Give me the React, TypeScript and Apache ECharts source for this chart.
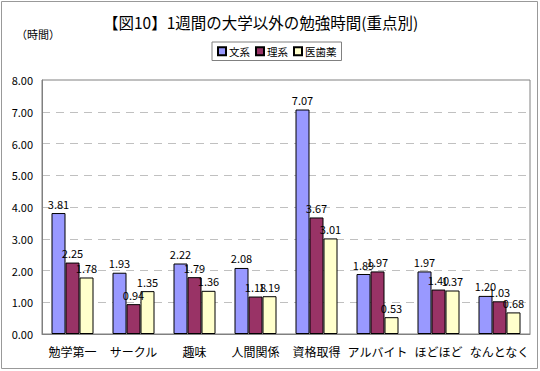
import React, { useEffect, useRef } from "react";
import * as echarts from "echarts";

const categories = ["勉学第一", "サークル", "趣味", "人間関係", "資格取得", "アルバイト", "ほどほど", "なんとなく"];
const seriesNames = ["文系", "理系", "医歯薬"];
const bunkei = [3.81, 1.93, 2.22, 2.08, 7.07, 1.89, 1.97, 1.2];
const rikei = [2.25, 0.94, 1.79, 1.18, 3.67, 1.97, 1.4, 1.03];
const ishiyaku = [1.78, 1.35, 1.36, 1.19, 3.01, 0.53, 1.37, 0.68];
const colors = ["#9999FF", "#993366", "#FFFFCC"];

const FONT = "'Noto Sans CJK JP', 'Noto Sans', sans-serif";

export default function App() {
  const ref = useRef<HTMLDivElement>(null);
  useEffect(() => {
    document.body.style.margin = "0";
    const chart = echarts.init(ref.current!, undefined, { renderer: "svg" });
    const data = [bunkei, rikei, ishiyaku];
    chart.setOption({
      animation: false,
      textStyle: { fontFamily: FONT, color: "#000" },
      title: {
        text: "【図10】1週間の大学以外の勉強時間(重点別)",
        left: 98,
        top: 9,
        textStyle: { fontSize: 15.5, fontWeight: "normal", color: "#000", fontFamily: FONT },
      },
      graphic: [
        {
          type: "rect",
          shape: { x: 1.5, y: 1.5, width: 536, height: 367 },
          style: { fill: "none", stroke: "#999", lineWidth: 1 },
          silent: true,
        },
        {
          type: "text",
          left: 16,
          top: 28,
          style: { text: "（時間）", fontSize: 11, fill: "#000", fontFamily: FONT },
        },
      ],
      legend: {
        left: 212,
        top: 42,
        padding: [4, 5],
        borderColor: "#808080",
        borderWidth: 1,
        itemWidth: 8,
        itemHeight: 8,
        itemGap: 5,
        icon: "rect",
        data: seriesNames,
        textStyle: { fontSize: 10.5, color: "#000", fontFamily: FONT, padding: [0, 0, 0, -2] },
      },
      grid: { left: 42, right: 10, top: 80, bottom: 37, show: true, borderColor: "#808080", borderWidth: 1 },
      xAxis: {
        type: "category",
        data: categories,
        axisLine: { lineStyle: { color: "#808080" } },
        axisTick: { inside: true, length: 3, lineStyle: { color: "#808080" } },
        axisLabel: { fontSize: 12, color: "#000", margin: 11, interval: 0, fontFamily: FONT },
      },
      yAxis: {
        type: "value",
        min: 0,
        max: 8,
        interval: 1,
        axisLine: { show: true, lineStyle: { color: "#808080" } },
        axisTick: { show: false },
        axisLabel: { fontSize: 11, color: "#000", margin: 9, formatter: (v: number) => v.toFixed(2) },
        splitLine: { lineStyle: { color: "#c0c0c0", type: [8, 6] } },
      },
      series: seriesNames.map((name, i) => ({
        name,
        type: "bar",
        data: data[i],
        barWidth: 14,
        barGap: "0%",
        itemStyle: { color: colors[i], borderColor: "#000", borderWidth: 1 },
        label: {
          show: true,
          position: "top",
          fontSize: 11,
          color: "#000",
          distance: 4,
          formatter: (p: any) => p.value.toFixed(2),
        },
      })),
    });
    return () => chart.dispose();
  }, []);
  return <div ref={ref} style={{ width: 540, height: 371 }} />;
}
